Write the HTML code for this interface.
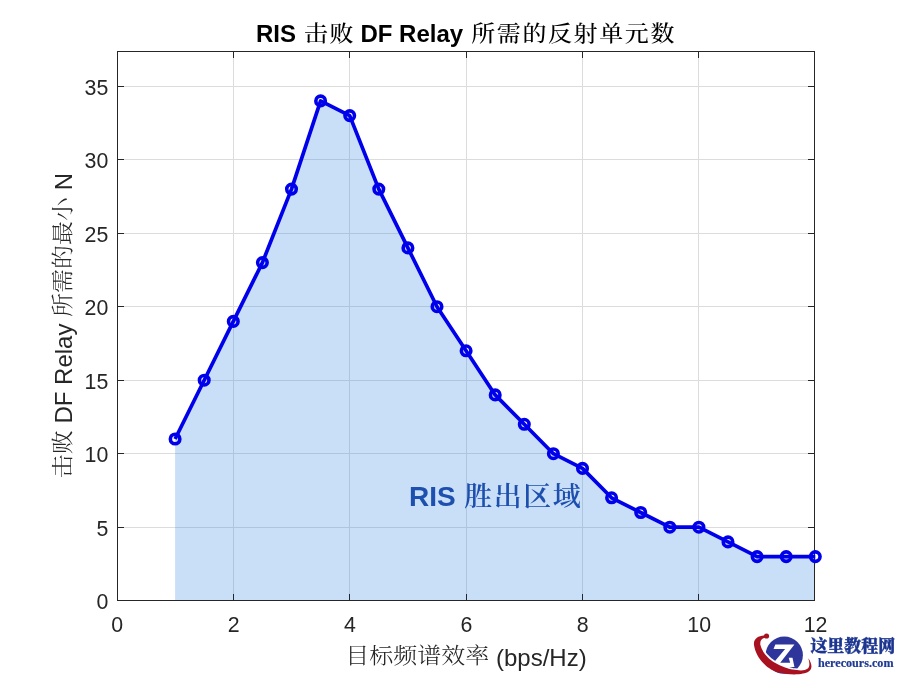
<!DOCTYPE html>
<html lang="zh"><head><meta charset="utf-8"><title>RIS 击败 DF Relay 所需的反射单元数</title>
<style>html,body{margin:0;padding:0;background:#fff;overflow:hidden}svg{display:block;will-change:transform}.t{font-family:'Liberation Sans', Arial, Helvetica, sans-serif;font-size:21.33px;fill:#262626}.lab{font-family:'Liberation Sans', 'Noto Serif CJK SC', serif;font-size:24px;fill:#262626}</style></head><body>
<svg width="900" height="675" viewBox="0 0 900 675">
<rect width="900" height="675" fill="#fff"/>
<line x1="233.50" y1="51.5" x2="233.50" y2="600.5" stroke="#dcdcdc" stroke-width="1"/>
<line x1="349.50" y1="51.5" x2="349.50" y2="600.5" stroke="#dcdcdc" stroke-width="1"/>
<line x1="466.50" y1="51.5" x2="466.50" y2="600.5" stroke="#dcdcdc" stroke-width="1"/>
<line x1="582.50" y1="51.5" x2="582.50" y2="600.5" stroke="#dcdcdc" stroke-width="1"/>
<line x1="698.50" y1="51.5" x2="698.50" y2="600.5" stroke="#dcdcdc" stroke-width="1"/>
<line x1="117.5" y1="527.50" x2="814.5" y2="527.50" stroke="#dcdcdc" stroke-width="1"/>
<line x1="117.5" y1="453.50" x2="814.5" y2="453.50" stroke="#dcdcdc" stroke-width="1"/>
<line x1="117.5" y1="380.50" x2="814.5" y2="380.50" stroke="#dcdcdc" stroke-width="1"/>
<line x1="117.5" y1="306.50" x2="814.5" y2="306.50" stroke="#dcdcdc" stroke-width="1"/>
<line x1="117.5" y1="233.50" x2="814.5" y2="233.50" stroke="#dcdcdc" stroke-width="1"/>
<line x1="117.5" y1="159.50" x2="814.5" y2="159.50" stroke="#dcdcdc" stroke-width="1"/>
<line x1="117.5" y1="86.50" x2="814.5" y2="86.50" stroke="#dcdcdc" stroke-width="1"/>
<polygon points="175.10,439.00 204.20,380.20 233.30,321.40 262.40,262.60 291.50,189.10 320.60,100.90 349.70,115.60 378.80,189.10 407.90,247.90 437.00,306.70 466.10,350.80 495.20,394.90 524.30,424.30 553.40,453.70 582.50,468.40 611.60,497.80 640.70,512.50 669.80,527.20 698.90,527.20 728.00,541.90 757.10,556.60 786.20,556.60 815.30,556.60 814.5,600.5 175.10,600.5" fill="#2f7fe0" fill-opacity="0.26"/>
<rect x="117.5" y="51.5" width="697.0" height="549.0" fill="none" stroke="#262626" stroke-width="1"/>
<text class="t" x="117.20" y="631.7" text-anchor="middle">0</text>
<path d="M233.50 600.5v-6.5M233.50 51.5v6.5" stroke="#262626" stroke-width="1" fill="none"/>
<text class="t" x="233.60" y="631.7" text-anchor="middle">2</text>
<path d="M349.50 600.5v-6.5M349.50 51.5v6.5" stroke="#262626" stroke-width="1" fill="none"/>
<text class="t" x="350.00" y="631.7" text-anchor="middle">4</text>
<path d="M466.50 600.5v-6.5M466.50 51.5v6.5" stroke="#262626" stroke-width="1" fill="none"/>
<text class="t" x="466.40" y="631.7" text-anchor="middle">6</text>
<path d="M582.50 600.5v-6.5M582.50 51.5v6.5" stroke="#262626" stroke-width="1" fill="none"/>
<text class="t" x="582.80" y="631.7" text-anchor="middle">8</text>
<path d="M698.50 600.5v-6.5M698.50 51.5v6.5" stroke="#262626" stroke-width="1" fill="none"/>
<text class="t" x="699.20" y="631.7" text-anchor="middle">10</text>
<text class="t" x="815.60" y="631.7" text-anchor="middle">12</text>
<path d="M117.5 600.50h6.5M814.5 600.50h-6.5" stroke="#262626" stroke-width="1" fill="none"/>
<text class="t" x="108.3" y="609.30" text-anchor="end">0</text>
<path d="M117.5 527.50h6.5M814.5 527.50h-6.5" stroke="#262626" stroke-width="1" fill="none"/>
<text class="t" x="108.3" y="536.30" text-anchor="end">5</text>
<path d="M117.5 453.50h6.5M814.5 453.50h-6.5" stroke="#262626" stroke-width="1" fill="none"/>
<text class="t" x="108.3" y="462.30" text-anchor="end">10</text>
<path d="M117.5 380.50h6.5M814.5 380.50h-6.5" stroke="#262626" stroke-width="1" fill="none"/>
<text class="t" x="108.3" y="389.30" text-anchor="end">15</text>
<path d="M117.5 306.50h6.5M814.5 306.50h-6.5" stroke="#262626" stroke-width="1" fill="none"/>
<text class="t" x="108.3" y="315.30" text-anchor="end">20</text>
<path d="M117.5 233.50h6.5M814.5 233.50h-6.5" stroke="#262626" stroke-width="1" fill="none"/>
<text class="t" x="108.3" y="242.30" text-anchor="end">25</text>
<path d="M117.5 159.50h6.5M814.5 159.50h-6.5" stroke="#262626" stroke-width="1" fill="none"/>
<text class="t" x="108.3" y="168.30" text-anchor="end">30</text>
<path d="M117.5 86.50h6.5M814.5 86.50h-6.5" stroke="#262626" stroke-width="1" fill="none"/>
<text class="t" x="108.3" y="95.30" text-anchor="end">35</text>
<polyline points="175.10,439.00 204.20,380.20 233.30,321.40 262.40,262.60 291.50,189.10 320.60,100.90 349.70,115.60 378.80,189.10 407.90,247.90 437.00,306.70 466.10,350.80 495.20,394.90 524.30,424.30 553.40,453.70 582.50,468.40 611.60,497.80 640.70,512.50 669.80,527.20 698.90,527.20 728.00,541.90 757.10,556.60 786.20,556.60 815.30,556.60" fill="none" stroke="#0000ea" stroke-width="3.7" stroke-linejoin="round"/>
<circle cx="175.10" cy="439.00" r="4.75" fill="none" stroke="#0000ea" stroke-width="3.6"/>
<circle cx="204.20" cy="380.20" r="4.75" fill="none" stroke="#0000ea" stroke-width="3.6"/>
<circle cx="233.30" cy="321.40" r="4.75" fill="none" stroke="#0000ea" stroke-width="3.6"/>
<circle cx="262.40" cy="262.60" r="4.75" fill="none" stroke="#0000ea" stroke-width="3.6"/>
<circle cx="291.50" cy="189.10" r="4.75" fill="none" stroke="#0000ea" stroke-width="3.6"/>
<circle cx="320.60" cy="100.90" r="4.75" fill="none" stroke="#0000ea" stroke-width="3.6"/>
<circle cx="349.70" cy="115.60" r="4.75" fill="none" stroke="#0000ea" stroke-width="3.6"/>
<circle cx="378.80" cy="189.10" r="4.75" fill="none" stroke="#0000ea" stroke-width="3.6"/>
<circle cx="407.90" cy="247.90" r="4.75" fill="none" stroke="#0000ea" stroke-width="3.6"/>
<circle cx="437.00" cy="306.70" r="4.75" fill="none" stroke="#0000ea" stroke-width="3.6"/>
<circle cx="466.10" cy="350.80" r="4.75" fill="none" stroke="#0000ea" stroke-width="3.6"/>
<circle cx="495.20" cy="394.90" r="4.75" fill="none" stroke="#0000ea" stroke-width="3.6"/>
<circle cx="524.30" cy="424.30" r="4.75" fill="none" stroke="#0000ea" stroke-width="3.6"/>
<circle cx="553.40" cy="453.70" r="4.75" fill="none" stroke="#0000ea" stroke-width="3.6"/>
<circle cx="582.50" cy="468.40" r="4.75" fill="none" stroke="#0000ea" stroke-width="3.6"/>
<circle cx="611.60" cy="497.80" r="4.75" fill="none" stroke="#0000ea" stroke-width="3.6"/>
<circle cx="640.70" cy="512.50" r="4.75" fill="none" stroke="#0000ea" stroke-width="3.6"/>
<circle cx="669.80" cy="527.20" r="4.75" fill="none" stroke="#0000ea" stroke-width="3.6"/>
<circle cx="698.90" cy="527.20" r="4.75" fill="none" stroke="#0000ea" stroke-width="3.6"/>
<circle cx="728.00" cy="541.90" r="4.75" fill="none" stroke="#0000ea" stroke-width="3.6"/>
<circle cx="757.10" cy="556.60" r="4.75" fill="none" stroke="#0000ea" stroke-width="3.6"/>
<circle cx="786.20" cy="556.60" r="4.75" fill="none" stroke="#0000ea" stroke-width="3.6"/>
<circle cx="815.30" cy="556.60" r="4.75" fill="none" stroke="#0000ea" stroke-width="3.6"/>
<g id="title" transform="translate(255.9,41.7)"><text x="0.00" y="0" xml:space="preserve" style="font-family:'Liberation Sans', Arial, Helvetica, sans-serif;font-weight:bold;font-size:24px;fill:#000">RIS </text><g transform="translate(0,-0.35) scale(1,0.885)"><text x="48.08 73.68" y="0" style="font-family:'Noto Serif CJK SC', 'Noto Sans CJK SC', serif;font-weight:500;font-size:24px;fill:#000">击败</text></g><text x="97.88" y="0" xml:space="preserve" style="font-family:'Liberation Sans', Arial, Helvetica, sans-serif;font-weight:bold;font-size:24px;fill:#000"> DF Relay </text><g transform="translate(0,-0.35) scale(1,0.885)"><text x="215.32 240.92 266.52 292.12 317.72 343.32 368.92 394.52" y="0" style="font-family:'Noto Serif CJK SC', 'Noto Sans CJK SC', serif;font-weight:500;font-size:24px;fill:#000">所需的反射单元数</text></g></g>
<g id="xl" transform="translate(345.33,665.5)"><g transform="translate(0,-2.2) scale(1,0.885)"><text x="0.00 24.00 48.00 72.00 96.00 120.00" y="0" style="font-family:'Noto Serif CJK SC', 'Noto Sans CJK SC', serif;font-weight:300;font-size:24px;fill:#262626">目标频谱效率</text></g><text x="144.00" y="0" xml:space="preserve" style="font-family:'Liberation Sans', Arial, Helvetica, sans-serif;font-weight:normal;font-size:24px;fill:#262626"> (bps/Hz)</text></g>
<g id="yl" transform="translate(71.9,478.28) rotate(-90)"><g transform="translate(0,-2.2) scale(1,0.885)"><text x="0.00 24.00" y="0" style="font-family:'Noto Serif CJK SC', 'Noto Sans CJK SC', serif;font-weight:300;font-size:24px;fill:#262626">击败</text></g><text x="48.00" y="0" xml:space="preserve" style="font-family:'Liberation Sans', Arial, Helvetica, sans-serif;font-weight:normal;font-size:24px;fill:#262626"> DF Relay </text><g transform="translate(0,-2.2) scale(1,0.885)"><text x="161.36 185.36 209.36 233.36 257.36" y="0" style="font-family:'Noto Serif CJK SC', 'Noto Sans CJK SC', serif;font-weight:300;font-size:24px;fill:#262626">所需的最小</text></g><text x="281.36" y="0" xml:space="preserve" style="font-family:'Liberation Sans', Arial, Helvetica, sans-serif;font-weight:normal;font-size:24px;fill:#262626"> N</text></g>
<g id="ann" transform="translate(409,505.8)"><text x="0.00" y="0" xml:space="preserve" style="font-family:'Liberation Sans', Arial, Helvetica, sans-serif;font-weight:bold;font-size:28px;fill:#1c4fae">RIS </text><g transform="translate(0,-0.2) scale(1,0.97)"><text x="55.21 84.71 114.21 143.71" y="0" style="font-family:'Noto Serif CJK SC', 'Noto Sans CJK SC', serif;font-weight:600;font-size:28px;fill:#1c4fae">胜出区域</text></g></g>
<g transform="translate(750,628) scale(0.08889)">
<circle cx="385" cy="306" r="210" fill="#2e369c"/>
<path d="M285 185H500L340 392H452L435 335H478L500 440H225L395 235H265Z" fill="#fff"/>
<path d="M120 150C114 165 113 178 118 195C135 265 200 345 280 390C350 428 430 458 480 468C560 482 620 482 650 457" fill="none" stroke="#fff" stroke-width="38"/>
<path d="M170 110C128 118 108 150 118 195C135 265 200 345 280 390C350 428 430 458 480 468C560 482 620 482 650 457C675 435 672 385 655 340C700 400 705 460 660 490C610 525 460 535 320 500C170 460 60 310 45 190C36 120 95 86 165 84Z" fill="#a81220"/><circle cx="186" cy="90" r="29" fill="#a81220"/>
</g>
<text id="wm1" x="810.4" y="652.0" style="font-family:'Liberation Serif','Noto Serif CJK SC',serif;font-weight:900;font-size:17px;fill:#1b3590;stroke:#1b3590;stroke-width:0.35" textLength="84.8" lengthAdjust="spacingAndGlyphs">这里教程网</text>
<text id="wm2" x="818" y="666.6" style="font-family:'Liberation Serif',serif;font-weight:bold;font-size:12.3px;fill:#1f3a93;stroke:#1f3a93;stroke-width:0.2" textLength="75.5" lengthAdjust="spacingAndGlyphs">herecours.com</text>
</svg></body></html>
